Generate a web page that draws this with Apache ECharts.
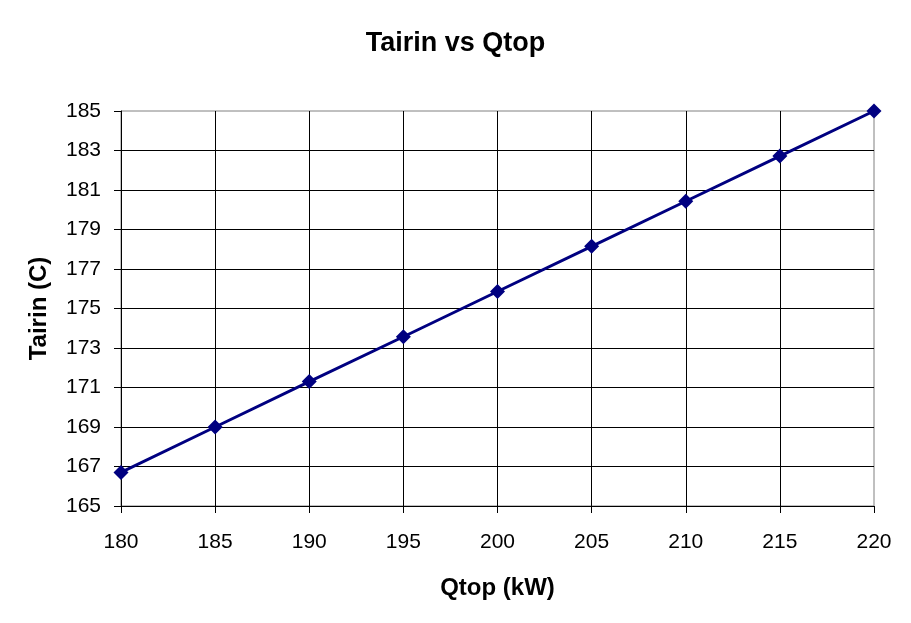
<!DOCTYPE html>
<html><head><meta charset="utf-8">
<script src="https://cdn.jsdelivr.net/npm/echarts@6/dist/echarts.min.js"></script>
<style>html,body{margin:0;padding:0;background:#fff}#c{width:911px;height:623px}</style>
</head><body><div id="c"></div>
<script>
const qtop = [180, 185, 190, 195, 200, 205, 210, 215, 220];
const tairin = [166.7, 169.0, 171.3, 173.57, 175.86, 178.15, 180.43, 182.72, 185.0];
const yBase = 165;
const yMax = 185;
const font = 'Liberation Sans, Arial, sans-serif';
const chart = echarts.init(document.getElementById('c'));
chart.setOption({
  animation: false,
  backgroundColor: '#fff',
  title: {text: 'Tairin vs Qtop', left: 'center', top: 25,
    textStyle: {fontFamily: font, fontSize: 27, fontWeight: 'bold', color: '#000'}},
  grid: {left: 121, right: 37, top: 111, bottom: 117, show: true, borderColor: '#808080', borderWidth: 1, backgroundColor: 'transparent'},
  xAxis: {type: 'value', min: 180, max: 220, interval: 5,
    name: 'Qtop (kW)', nameLocation: 'middle', nameGap: 70,
    nameTextStyle: {fontFamily: font, fontSize: 24, fontWeight: 'bold', color: '#000'},
    axisLine: {lineStyle: {color: '#000', width: 1}},
    axisTick: {show: true, length: 7, lineStyle: {color: '#000'}},
    axisLabel: {fontFamily: font, fontSize: 21, color: '#000', margin: 26},
    splitLine: {show: true, showMaxLine: false, lineStyle: {color: '#000', width: 1}}},
  yAxis: {type: 'value', min: 0, max: yMax - yBase, interval: 2,
    name: 'Tairin (C)', nameLocation: 'middle', nameGap: 70, nameRotate: 90,
    nameTextStyle: {fontFamily: font, fontSize: 24, fontWeight: 'bold', color: '#000'},
    axisLine: {show: true, lineStyle: {color: '#000', width: 1}},
    axisTick: {show: true, length: 7, lineStyle: {color: '#000'}},
    axisLabel: {fontFamily: font, fontSize: 21, color: '#000', margin: 20,
      formatter: v => String(v + yBase)},
    splitLine: {show: true, showMaxLine: false, lineStyle: {color: '#000', width: 1}}},
  series: [{type: 'line', data: qtop.map((x, i) => [x, tairin[i] - yBase]),
    symbol: 'diamond', symbolSize: 15, showSymbol: true,
    lineStyle: {color: '#000080', width: 3},
    itemStyle: {color: '#000080'}}]
});
</script></body></html>
